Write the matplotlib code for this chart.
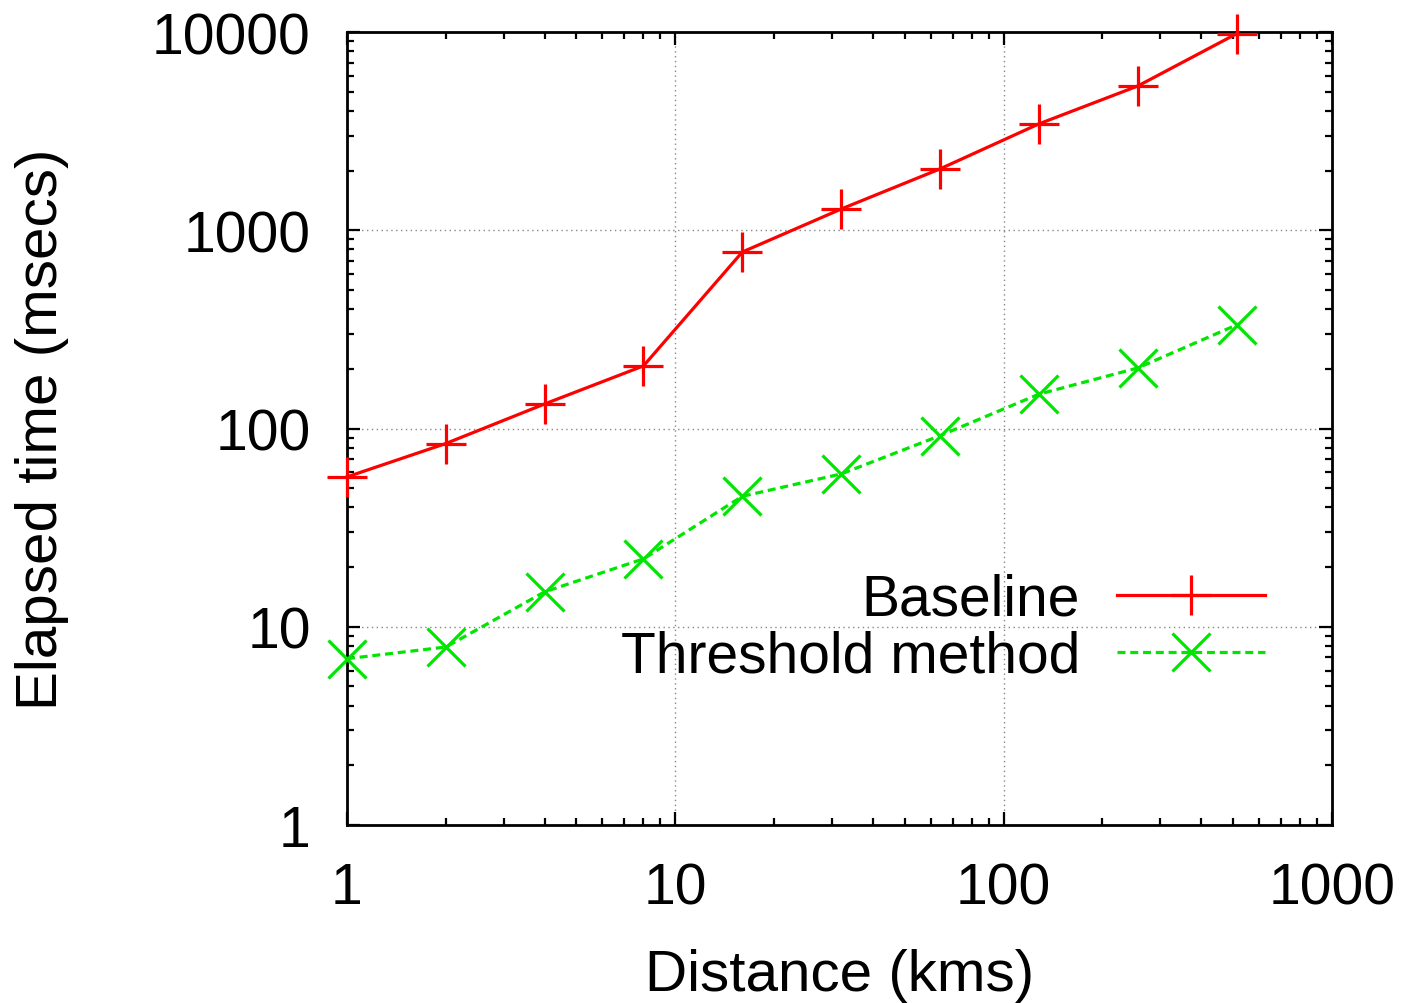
import matplotlib
matplotlib.use("Agg")
import matplotlib.pyplot as plt
from matplotlib.ticker import LogLocator, NullFormatter, FixedLocator, FixedFormatter

plt.rcParams['font.family'] = ['Liberation Sans', 'DejaVu Sans']

distance = [1, 2, 4, 8, 16, 32, 64, 128, 256, 512]
baseline = [57, 84, 133, 207, 777, 1280, 2040, 3440, 5340, 9800]
threshold = [6.9, 7.9, 15, 22, 45.5, 59, 92, 149, 202, 333]

fig = plt.figure(figsize=(14.11, 10.04), dpi=100)
ax = fig.add_axes([0.2459, 0.1773, 0.944 - 0.2459, 0.9671 - 0.1773])

ax.plot(distance, baseline, color='#ff0000', lw=2.3, marker='+', ms=29, mew=2.3,
        label='Baseline', clip_on=False, zorder=3)
ax.plot(distance, threshold, color='#00e600', lw=2.3, ls=(0, (2.5, 1.5)), marker='x',
        ms=28, mew=2.3, label='Threshold method', clip_on=False, zorder=3)

ax.set_xscale('log')
ax.set_yscale('log')
ax.set_xlim(1, 1000)
ax.set_ylim(1, 10000)

xt = [1, 10, 100, 1000]
yt = [1, 10, 100, 1000, 10000]
ax.xaxis.set_major_locator(FixedLocator(xt))
ax.xaxis.set_major_formatter(FixedFormatter([str(v) for v in xt]))
ax.yaxis.set_major_locator(FixedLocator(yt))
ax.yaxis.set_major_formatter(FixedFormatter([str(v) for v in yt]))
ax.xaxis.set_minor_locator(LogLocator(base=10, subs=range(2, 10)))
ax.yaxis.set_minor_locator(LogLocator(base=10, subs=range(2, 10)))
ax.xaxis.set_minor_formatter(NullFormatter())
ax.yaxis.set_minor_formatter(NullFormatter())

ax.tick_params(which='both', direction='in', top=True, right=True, width=1.6, colors='black')
ax.tick_params(which='major', length=9.5, labelsize=41)
ax.tick_params(axis='x', which='major', pad=26)
ax.tick_params(axis='y', which='major', pad=26)
ax.tick_params(which='minor', length=5)
for s in ax.spines.values():
    s.set_linewidth(2.0)

ax.grid(True, which='major', color='#888888', ls=(0, (1, 2.5)), lw=1.0)

ax.set_xlabel('Distance (kms)', fontsize=42, labelpad=24)
ax.set_ylabel('Elapsed time (msecs)', fontsize=42, labelpad=60)

ax.legend(loc='lower right', bbox_to_anchor=(0.932, 0.178), frameon=False, markerfirst=False,
          fontsize=41, handlelength=2.6, handletextpad=0.65, labelspacing=0.05,
          borderpad=0, borderaxespad=0)

fig.savefig('out.png', dpi=100)
